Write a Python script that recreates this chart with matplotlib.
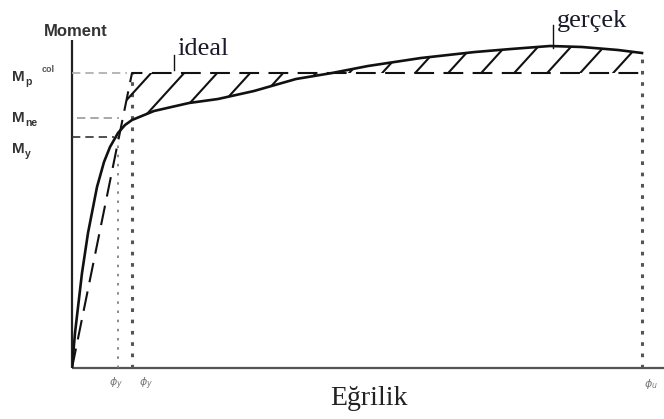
import matplotlib
matplotlib.use("Agg")
import matplotlib.pyplot as plt
import numpy as np
from matplotlib.patches import Polygon

# moment-curvature sketch, units are roughly pixels from the origin
curv = [0, 3, 10, 16, 25, 32, 38, 46, 53, 60, 82, 117, 146, 182, 224, 260, 296, 349,
        403, 439, 478, 510, 546, 570]
mom = [0, 35, 95, 135, 181, 206, 221, 235, 243, 248, 257, 265, 269, 277, 289, 295, 302, 310,
       316, 319, 322, 321, 318, 315]

M_p = 295
M_ne = 250
M_y = 231
phi_y1 = 46
phi_y = 60
phi_u = 570

serif = "Liberation Serif"
sans = "Liberation Sans"

fig = plt.figure(figsize=(6.64, 4.19), dpi=100)
ax = fig.add_axes([72/664, 51/419, 592/664, 368/419])
ax.set_xlim(0, 592)
ax.set_ylim(0, 368)
ax.axis("off")

# axes lines
ax.plot([0, 0], [0, 328], color="#222222", lw=1.6, clip_on=False, solid_capstyle="butt")
ax.plot([0, 592], [0, 0], color="#555555", lw=1.6, clip_on=False, solid_capstyle="butt")

# ideal bilinear curve
ideal_x = [0, phi_y, phi_u]
ideal_y = [0, M_p, M_p]
ax.plot(ideal_x, ideal_y, color="#111111", lw=1.5, ls=(0, (9.5, 4.5)), zorder=3)

# real curve
ax.plot(curv, mom, color="#111111", lw=1.9, zorder=4, solid_joinstyle="round")

# hatched area between the two
xg = np.linspace(0, phi_u, 600)
cg = np.interp(xg, curv, mom)
ig = np.interp(xg, ideal_x, ideal_y)
start = np.argmax(ig - cg > 0)
xs, cs, iss = xg[start:], cg[start:], ig[start:]
verts = np.vstack([np.column_stack([xs, cs]), np.column_stack([xs[::-1], iss[::-1]])])
region = Polygon(verts, closed=True, fc="none", ec="none")
ax.add_patch(region)
for x0 in np.arange(-420, 620, 33):
    ln, = ax.plot([x0, x0 + 400], [0, 440], color="#111111", lw=1.5, zorder=3)
    ln.set_clip_path(region)

# reference lines
ax.plot([0, 55], [M_p, M_p], color="#aaaaaa", lw=1.2, ls=(0, (5, 3)), zorder=2)
ax.plot([5, 47], [M_ne, M_ne], color="#999999", lw=1.2, ls=(0, (5, 3)), zorder=2)
ax.plot([0, 42], [M_y, M_y], color="#333333", lw=1.2, ls=(0, (5, 3)), zorder=2)
ax.plot([phi_y1, phi_y1], [0, M_y], color="#777777", lw=1.2, ls=(0, (1.5, 4)), zorder=2)
ax.plot([phi_y, phi_y], [0, M_p], color="#555555", lw=2.2, ls=(0, (1.2, 2.5)), zorder=2)
ax.plot([phi_u, phi_u], [0, 315], color="#555555", lw=2.2, ls=(0, (1.2, 2.5)), zorder=2)

# labels
ax.text(4, 337, "Moment", fontsize=12, fontweight="bold", family=sans, color="#333333",
        ha="center", va="center")
lab = dict(fontweight="bold", family=sans, color="#333333", va="center")
ax.text(-60, 291, "M", fontsize=11, **lab)
ax.text(-47, 286, "p", fontsize=7.5, **lab)
ax.text(-30, 299, "col", fontsize=6.5, **dict(lab, color="#555555"))
ax.text(-60, 250, "M", fontsize=11, **lab)
ax.text(-47, 245, "ne", fontsize=7.5, **lab)
ax.text(-60, 219, "M", fontsize=11, **lab)
ax.text(-47, 214, "y", fontsize=7.5, **lab)

ax.text(105, 313, "ideal", fontsize=19, family=serif, color="#1a1a2a", va="baseline")
ax.plot([102, 102], [298, 313], color="#111111", lw=1)
ax.text(485, 341, "gerçek", fontsize=19, family=serif, color="#1a1a2a", va="baseline")
ax.plot([481, 481], [320, 343], color="#111111", lw=1)
ax.text(297, -30, "Eğrilik", fontsize=20, family=serif, color="#222222", ha="center", va="center")

ax.text(44, -16, r"$\phi_y$", fontsize=8, color="#777777", ha="center", va="center")
ax.text(74, -16, r"$\phi_y$", fontsize=8, color="#777777", ha="center", va="center")
ax.text(579, -16, r"$\phi_u$", fontsize=8, color="#777777", ha="center", va="center")

fig.savefig("out.png", dpi=100)
